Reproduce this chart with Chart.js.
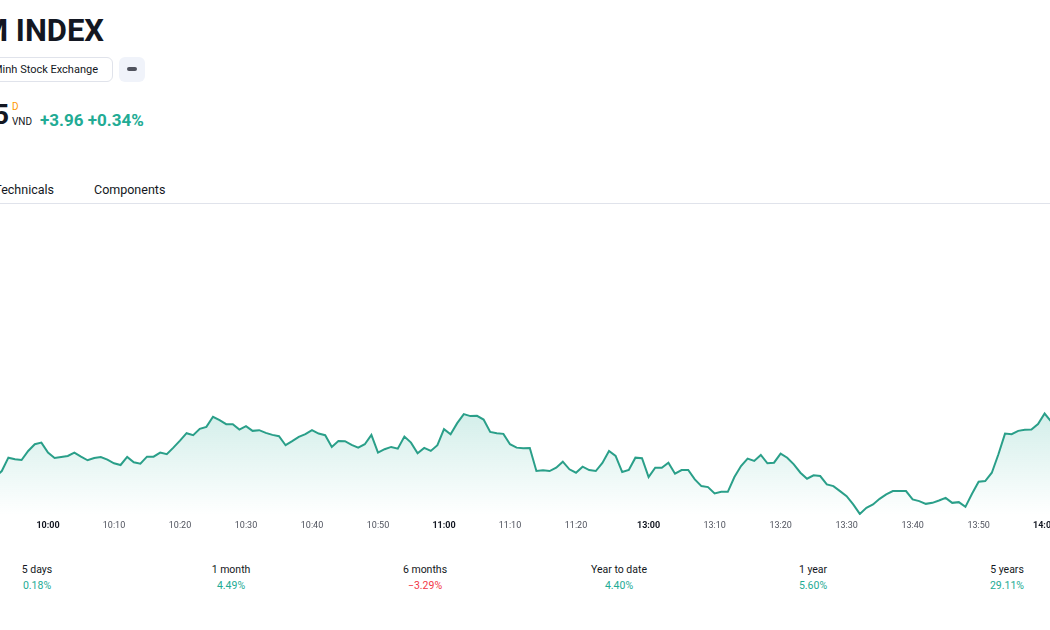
<!DOCTYPE html>
<html>
<head>
<meta charset="utf-8">
<title>VN Index intraday</title>
<script src="https://cdn.jsdelivr.net/npm/chart.js@4.4.1/dist/chart.umd.min.js"></script>
<style>
    html, body { margin: 0; padding: 0; background: #fff; }
    body {
        width: 1050px; height: 630px; overflow: hidden; position: relative;
        font-family: Roboto, "Open Sans", sans-serif; color: #131722;
    }
    .title { position: absolute; left: -19px; top: 12px; font-size: 31px; font-weight: 700; white-space: nowrap; }
    .exchange {
        position: absolute; left: -200px; top: 57px; width: 313px; height: 25px; box-sizing: border-box;
        border: 1px solid #e0e3eb; border-radius: 6px; text-align: right; padding-right: 14px;
        font-size: 11px; line-height: 23px; white-space: nowrap; overflow: hidden;
    }
    .more { position: absolute; left: 119px; top: 57px; width: 26px; height: 25px; background: #f0f3fa; border-radius: 6px; }
    .more span { position: absolute; left: 8px; top: 10px; width: 10px; height: 4px; border-radius: 2px; background: #50535e; }
    .price { position: absolute; left: -200px; width: 209px; top: 98px; text-align: right; font-size: 28px; font-weight: 700; }
    .cur-d { position: absolute; left: 12px; top: 101px; font-size: 10px; color: #ff9800; }
    .cur { position: absolute; left: 12px; top: 116px; font-size: 10px; }
    .change { position: absolute; left: 40px; top: 110px; font-size: 17px; font-weight: 700; color: #22ab94; white-space: nowrap; }
    .tab { position: absolute; top: 182px; font-size: 12.5px; white-space: nowrap; }
    .tabs-line { position: absolute; left: 0; top: 203px; width: 1050px; height: 1px; background: #e0e3eb; }
    #chartBox { position: absolute; left: -40px; top: 215px; width: 1140px; height: 321px; }
    .perf { position: absolute; left: -60px; top: 562px; width: 1164px; display: flex; }
    .perf div { width: 194px; text-align: center; font-size: 10.5px; line-height: 16px; }
    .up { color: #22ab94; }
    .down { color: #f23645; }
</style>
</head>
<body>
<div class="title">M INDEX</div>
<div class="exchange">Ho Chi Minh Stock Exchange</div>
<div class="more"><span></span></div>
<div class="price">5</div>
<div class="cur-d">D</div>
<div class="cur">VND</div>
<div class="change">+3.96 +0.34%</div>
<div class="tab" style="right: 996px;">Technicals</div>
<div class="tab" style="left: 94px;">Components</div>
<div class="tabs-line"></div>
<div id="chartBox"><canvas id="intradayChart"></canvas></div>
<div class="perf" id="perfRow"></div>

<script>
// Phiên giao dịch (sáng / chiều), mỗi điểm = 1 phút
const sessions = [['9:52', '11:30'], ['13:00', '14:01']];

// Giá chỉ số theo phút
const prices = [
    1163.6, 1164.2, 1165.53, 1165.37, 1165.3, 1166.2, 1166.87, 1167.03,
    1166.03, 1165.5, 1165.6, 1165.7, 1166.03, 1165.63, 1165.27, 1165.5, 1165.6, 1165.33,
    1164.97, 1164.8, 1165.6, 1165.07, 1164.93, 1165.63, 1165.63, 1166.03, 1165.87, 1166.53,
    1167.23, 1167.97, 1167.77, 1168.4, 1168.6, 1169.6, 1169.27, 1168.87, 1168.87, 1168.33,
    1168.67, 1168.2, 1168.27, 1168.0, 1167.8, 1167.67, 1166.77, 1167.17, 1167.6, 1167.87,
    1168.27, 1167.93, 1167.77, 1166.6, 1167.2, 1167.17, 1166.8, 1166.53, 1166.87, 1167.8,
    1166.03, 1166.37, 1166.6, 1166.43, 1167.63, 1167.03, 1165.97, 1166.5, 1166.2, 1166.77,
    1168.37, 1167.87, 1168.97, 1169.87, 1169.67, 1169.7, 1169.33, 1168.1, 1167.97, 1167.9,
    1166.87, 1166.53, 1166.47, 1166.5, 1164.2, 1164.27, 1164.2, 1164.53, 1165.13, 1164.37,
    1164.03, 1164.63, 1164.3, 1164.2, 1165.0, 1166.2, 1165.7, 1164.1, 1164.3, 1165.53,
    1165.47,
    1163.6, 1164.53, 1164.53, 1165.03, 1163.93, 1164.3, 1164.3, 1163.37, 1162.7,
    1162.6, 1161.97, 1162.13, 1162.13, 1163.6, 1164.7, 1165.43, 1165.2, 1165.8, 1164.97,
    1165.03, 1165.93, 1165.53, 1164.87, 1164.03, 1163.43, 1163.77, 1163.7, 1162.87, 1162.7,
    1162.2, 1161.7, 1160.87, 1159.93, 1160.53, 1160.87, 1161.43, 1161.87, 1162.2, 1162.2,
    1162.2, 1161.37, 1161.2, 1160.93, 1161.03, 1161.27, 1161.53, 1161.03, 1161.1, 1160.63,
    1161.93, 1163.13, 1163.2, 1164.03, 1165.87, 1167.93, 1167.87, 1168.2, 1168.3, 1168.33,
    1168.87, 1169.93, 1169.13
];

// Hiệu suất theo kỳ
const periods = ['5 days', '1 month', '6 months', 'Year to date', '1 year', '5 years'];
const periodChanges = [0.18, 4.49, -3.29, 4.40, 5.60, 29.11];

/**
 * Tạo danh sách nhãn thời gian theo phút từ các phiên
 */
function buildTimes() {
    const out = [];
    sessions.forEach(([from, to]) => {
        const toMin = s => { const [h, m] = s.split(':').map(Number); return h * 60 + m; };
        for (let t = toMin(from); t <= toMin(to); t++) {
            out.push(Math.floor(t / 60) + ':' + String(t % 60).padStart(2, '0'));
        }
    });
    return out;
}

const times = buildTimes();
const sessionEnds = sessions.map(s => s[1]);
// Nhãn trục x: mỗi 10 phút (bỏ giờ đóng phiên sáng)
const tickIndexes = times
    .map((t, i) => (t.endsWith('0') && !sessionEnds.includes(t) ? i : -1))
    .filter(i => i >= 0);

// Giờ chẵn thì in đậm
function isHourTick(c) {
    return !!(c && c.tick && (times[c.tick.value] || '').endsWith(':00'));
}

document.getElementById('perfRow').innerHTML = periods.map((p, i) => {
    const v = periodChanges[i];
    const txt = (v < 0 ? '\u2212' : '') + Math.abs(v).toFixed(2) + '%';
    return `<div>${p}<br><span class="${v < 0 ? 'down' : 'up'}">${txt}</span></div>`;
}).join('');

const ctx = document.getElementById('intradayChart').getContext('2d');

new Chart(ctx, {
    type: 'line',
    data: {
        datasets: [{
            data: prices.map((p, i) => ({ x: i, y: p })),
            borderColor: '#2a9f89',
            borderWidth: 2,
            pointRadius: 0,
            tension: 0,
            fill: 'start',
            backgroundColor: function(context) {
                const area = context.chart.chartArea;
                if (!area) return 'rgba(34,171,148,0.15)';
                const yScale = context.chart.scales.y;
                const top = yScale.getPixelForValue(Math.max(...prices));
                const g = context.chart.ctx.createLinearGradient(0, top, 0, area.bottom);
                g.addColorStop(0, 'rgba(34,171,148,0.2)');
                g.addColorStop(1, 'rgba(34,171,148,0)');
                return g;
            }
        }]
    },
    options: {
        responsive: true,
        maintainAspectRatio: false,
        animation: false,
        layout: { padding: 0 },
        plugins: {
            legend: { display: false },
            tooltip: { enabled: false }
        },
        scales: {
            x: {
                type: 'linear',
                min: -5.33,
                max: 167.39,
                grid: { display: false, drawTicks: false },
                border: { display: false },
                afterBuildTicks: function(axis) {
                    axis.ticks = tickIndexes.map(v => ({ value: v }));
                },
                ticks: {
                    autoSkip: false,
                    maxRotation: 0,
                    padding: 5,
                    callback: value => times[value],
                    color: c => isHourTick(c) ? '#131722' : '#50535e',
                    font: c => ({
                        family: 'Roboto',
                        size: 9,
                        weight: isHourTick(c) ? 'bold' : 'normal'
                    })
                }
            },
            y: {
                display: false,
                min: 1159.8,
                max: 1189.7
            }
        }
    }
});
</script>
</body>
</html>
